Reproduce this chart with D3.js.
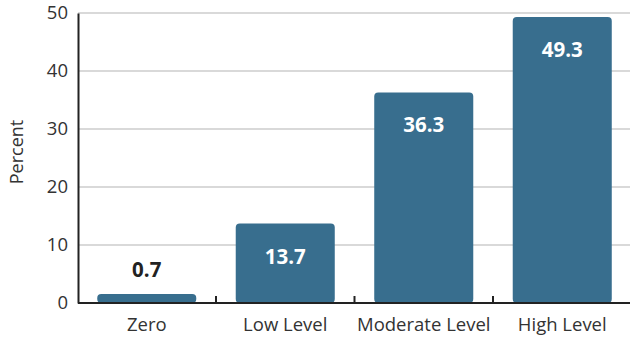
<!DOCTYPE html>
<html><head><meta charset="utf-8">
<script src="https://cdn.jsdelivr.net/npm/d3@7"></script>
<style>body{margin:0;background:#fff}svg{display:block;font-family:"Open Sans",sans-serif}</style>
</head><body>
<svg id="c" width="630" height="339"></svg>
<script>
const categories = ["Zero","Low Level","Moderate Level","High Level"];
const values = [0.7,13.7,36.3,49.3];
const yTicks = [0,10,20,30,40,50];

const svg = d3.select("#c");
const x = d3.scaleBand().domain(categories).range([77.5,631.5]).paddingInner(0.285).paddingOuter(0.1425);
const y = d3.scaleLinear().domain([0,50]).range([303,13]);
const color = "#386e8e";

// gridlines
svg.append("g").selectAll("line").data(yTicks.filter(d=>d>0)).join("line")
  .attr("x1",78).attr("x2",630).attr("y1",d=>y(d)).attr("y2",d=>y(d))
  .attr("stroke","#d9d9d9").attr("stroke-width",2);

// bars
svg.append("g").selectAll("rect").data(values).join("rect")
  .attr("x",(d,i)=>x(categories[i])).attr("width",x.bandwidth())
  .attr("y",d=>Math.min(y(d), y(0)-9)).attr("height",d=>Math.max(y(0)-y(d),9))
  .attr("rx",4).attr("fill",color);

// labels
svg.append("g").selectAll("text").data(values).join("text")
  .attr("x",(d,i)=>x(categories[i])+x.bandwidth()/2)
  .attr("y",d=> d<5 ? y(d)-22 : y(d)+40)
  .attr("text-anchor","middle").attr("font-size",20.5).attr("font-weight","bold")
  .attr("fill",d=>d<5?"#222":"#fff").text(d=>d.toFixed(1));

// y axis
const ya = svg.append("g").attr("transform","translate(78,0)")
  .call(d3.axisLeft(y).tickValues(yTicks).tickSize(0).tickPadding(10));
ya.select(".domain").attr("stroke","#222").attr("stroke-width",2);
ya.selectAll("text").attr("font-size",18.5).attr("fill","#333").attr("font-family","Open Sans, sans-serif");

// x axis
const xa = svg.append("g").attr("transform","translate(0,303)")
  .call(d3.axisBottom(x).tickSize(0).tickPadding(15));
xa.select(".domain").attr("d","M78,0H630").attr("stroke","#222").attr("stroke-width",2);
xa.selectAll("text").attr("font-size",18.5).attr("fill","#333").attr("font-family","Open Sans, sans-serif");
// boundary ticks
xa.append("g").selectAll("line").data(categories.slice(1)).join("line")
  .attr("x1",d=>x(d)-x.step()*x.paddingInner()/2).attr("x2",d=>x(d)-x.step()*x.paddingInner()/2)
  .attr("y1",0).attr("y2",-7).attr("stroke","#222").attr("stroke-width",2);

svg.append("text").attr("transform","translate(23,152) rotate(-90)")
  .attr("text-anchor","middle").attr("font-size",18).attr("fill","#333").text("Percent");
</script>
</body></html>
